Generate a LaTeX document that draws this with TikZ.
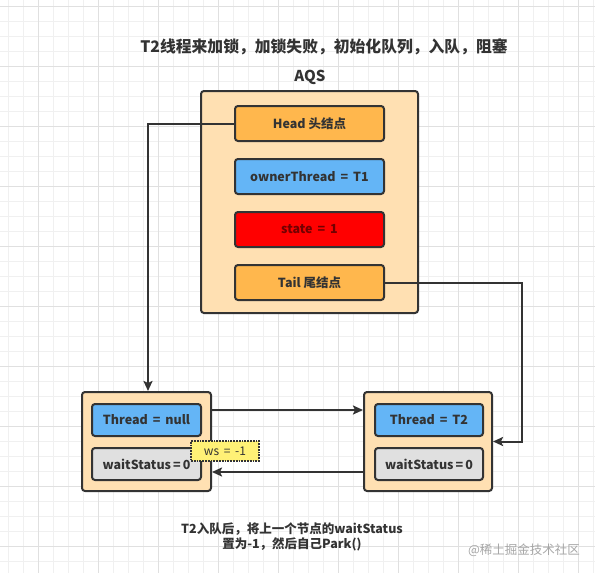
\documentclass[tikz,border=0pt]{standalone}
\usepackage{fontspec}
\setmainfont{Noto Sans CJK SC}
\usetikzlibrary{calc, arrows.meta}
\definecolor{linecolor}{HTML}{333333}
\definecolor{outerfill}{HTML}{FFE0B2}
\definecolor{orangefill}{HTML}{FFB74D}
\definecolor{bluefill}{HTML}{64B5F6}
\definecolor{redfill}{HTML}{FF0000}
\definecolor{grayfill}{HTML}{E0E0E0}
\definecolor{yellowfill}{HTML}{FFF176}
\tikzset{
    minor grid/.style = {draw=black!6, line width=0.6pt},
    major grid/.style = {draw=black!12, line width=0.8pt},
    outer box/.style = {draw=linecolor, line width=2pt, fill=outerfill, rounded corners=3pt, inner sep=0pt},
    field/.style = {draw=linecolor, line width=2pt, rounded corners=3pt, inner sep=0pt,
        text=linecolor, font=\bfseries\fontsize{12.5}{14}\selectfont},
    link/.style = {->, >={Stealth[length=10pt, width=9pt, inset=2pt]}, line width=2pt, draw=linecolor}
}

\begin{document}
\begin{tikzpicture}[x=1pt, y=-1pt]
        \useasboundingbox (0, 0) rectangle (595, 573);
        % background grid
        \fill[white] (0, 0) rectangle (595, 573);
        \foreach \i in {0,...,39} {
            \draw[minor grid] ({8.3+15*\i}, 0) -- ({8.3+15*\i}, 573);
            \draw[minor grid] (0, {6.5+15*\i}) -- (595, {6.5+15*\i});
        }
        \foreach \i in {0,...,9} {
            \draw[major grid] ({38.3+60*\i}, 0) -- ({38.3+60*\i}, 573);
            \draw[major grid] (0, {6.5+60*\i}) -- (595, {6.5+60*\i});
        }
        % titles
        \node[text=linecolor, font=\bfseries\fontsize{15.8}{18}\selectfont] (title) at (324, 47)
            {T2线程来加锁，加锁失败，初始化队列，入队，阻塞};
        \node[text=linecolor, font=\bfseries\fontsize{15}{18}\selectfont] (aqs label) at (310, 77) {AQS};
        % AQS block
        \node[outer box, minimum width=217pt, minimum height=222pt] (aqs) at (309.5, 202) {};
        \node[field, fill=orangefill, minimum width=149pt, minimum height=35pt] (head) at (309.5, 123.5) {Head 头结点};
        \node[field, fill=bluefill, minimum width=149pt, minimum height=35pt] (owner) at (309.5, 176.5) {ownerThread\ \,=\ \,T1};
        \node[field, fill=redfill, text=black!55!red, minimum width=149pt, minimum height=35pt] (state) at (309.5, 229.5) {state\ \,=\ \,1};
        \node[field, fill=orangefill, minimum width=149pt, minimum height=35pt] (tail) at (309.5, 282.5) {Tail 尾结点};
        % queue nodes
        \node[outer box, minimum width=129pt, minimum height=99pt] (first) at (146.5, 441.5) {};
        \node[field, fill=bluefill, minimum width=109pt, minimum height=32pt] (first thread) at (146.5, 420) {Thread\ \,=\ \,null};
        \node[field, fill=grayfill, minimum width=109pt, minimum height=32pt] (first ws) at (146.5, 464) {waitStatus\,=\,0};
        \node[outer box, minimum width=128pt, minimum height=99pt] (second) at (428, 441.5) {};
        \node[field, fill=bluefill, minimum width=108pt, minimum height=32pt] (second thread) at (429, 420) {Thread\ \,=\ \,T2};
        \node[field, fill=grayfill, minimum width=108pt, minimum height=32pt] (second ws) at (429, 464) {waitStatus\,=\,0};
        % ws note
        \node[draw=linecolor, densely dotted, line width=1.8pt, fill=yellowfill, text=linecolor, inner sep=0pt,
            minimum width=68pt, minimum height=20pt, font=\fontsize{12}{14}\selectfont] (ws note) at (225, 451) {ws\ \,=\ \,-1};
        % links
        \draw[link] (head.west) -| ([xshift=1.5pt]first.north);
        \coordinate (tail bend) at (522, 282.5);
        \draw[link] (tail.east) -- (tail bend) |- (second.east);
        \draw[link] ($(first.east)+(0, -31.5)$) -- ($(second.west)+(0, -31.5)$);
        \draw[link] ($(second.west)+(0, 30.5)$) -- ($(first.east)+(0, 30.5)$);
        % footnote
        \node[text=linecolor, align=center, font=\bfseries\fontsize{12.5}{15.5}\selectfont] (note) at (292, 537)
            {T2入队后，将上一个节点的waitStatus\\置为-1，然后自己Park()};
        \node[text=black!35, font=\fontsize{12.5}{14}\selectfont] (mark) at (524, 550) {@稀土掘金技术社区};
\end{tikzpicture}
\end{document}
